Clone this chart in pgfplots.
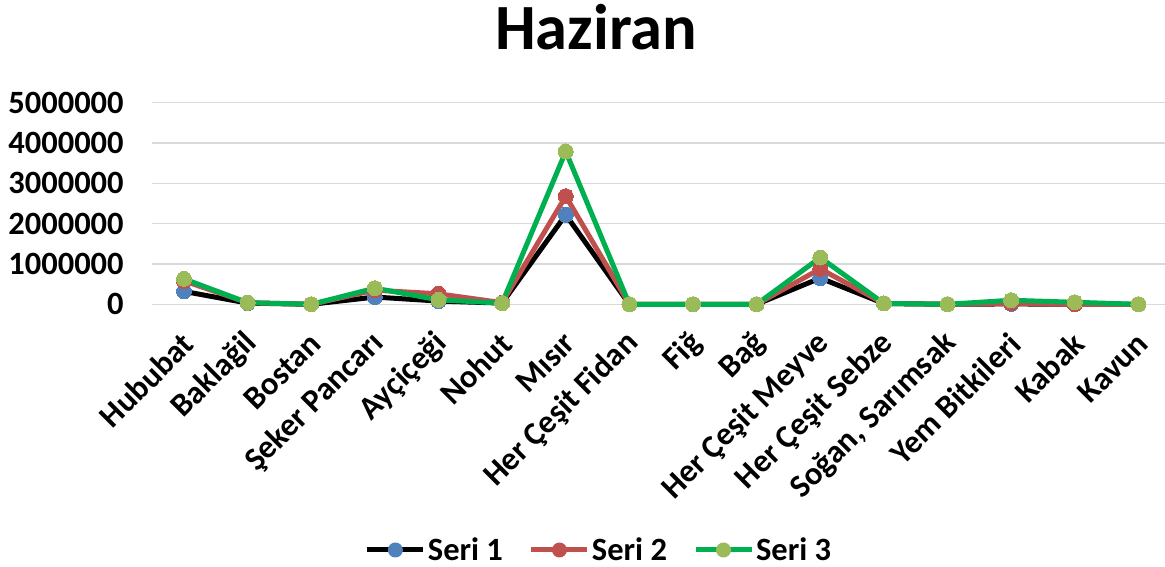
\documentclass[border=0pt]{standalone}
\usepackage{pgfplots}
\pgfplotsset{compat=1.18}
\usepackage{fontspec}
\setmainfont{Carlito}
\definecolor{sblue}{HTML}{4F81BD}
\definecolor{sred}{HTML}{C0504D}
\definecolor{sgreen}{HTML}{00B050}
\definecolor{sgreenm}{HTML}{9BBB59}
\definecolor{gridc}{HTML}{D9D9D9}
\pgfplotstableread{
x s1 s2 s3
0 320000 580000 630000
1 30000 40000 40000
2 0 0 0
3 180000 350000 400000
4 80000 260000 110000
5 30000 40000 30000
6 2220000 2680000 3790000
7 0 0 0
8 0 0 0
9 0 0 0
10 650000 880000 1160000
11 20000 20000 20000
12 0 0 0
13 10000 30000 100000
14 0 0 50000
15 0 0 0
}\datatable
\begin{document}
\begin{tikzpicture}
\begin{axis}[
  at={(152.2pt,262.7pt)}, anchor=south west,
  scale only axis, width=1018pt, height=201.6pt,
  xmin=-0.5, xmax=15.5, ymin=0, ymax=5000000,
  clip=false,
  axis line style={draw=none},
  major tick length=0pt,
  ymajorgrids, grid style={gridc, line width=1.5pt},
  ytick={0,1000000,2000000,3000000,4000000,5000000},
  scaled y ticks=false,
  /pgf/number format/.cd, fixed, precision=0, 1000 sep={}, assume math mode=true,
  /pgfplots/.cd,
  yticklabel style={font=\fontsize{32.5}{38}\selectfont\bfseries, anchor=east, xshift=-25pt},
  xtick={0,...,15},
  xticklabels={Hububat,Baklağil,Bostan,Şeker Pancarı,Ayçiçeği,Nohut,Mısır,Her Çeşit Fidan,Fiğ,Bağ,Her Çeşit Meyve,Her Çeşit Sebze,{Soğan, Sarımsak},Yem Bitkileri,Kabak,Kavun},
  xticklabel style={font=\fontsize{32.5}{38}\selectfont\bfseries, xshift=4pt, yshift=-34pt, rotate=45, anchor=east, inner sep=0pt},
  legend columns=3,
  legend style={draw=none, fill=none, at={(446.8pt,-245.7pt)}, anchor=center, font=\fontsize{32.5}{38}\selectfont\bfseries,
    /tikz/every even column/.append style={column sep=24pt}},
  legend cell align=left,
  legend image code/.code={\draw[#1, mark=none] (0pt,0pt) -- (56pt,0pt); \draw[#1, draw opacity=0] plot coordinates {(28pt,0pt)};},
  every axis plot/.append style={line width=5pt, mark=*, mark size=7.5pt},
]
\addplot[black, mark options={draw=sblue, fill=sblue, line width=0pt}] table[x=x, y=s1] {\datatable};
\addlegendentry{Seri 1}
\addplot[sred, mark options={draw=sred, fill=sred, line width=0pt}] table[x=x, y=s2] {\datatable};
\addlegendentry{Seri 2}
\addplot[sgreen, mark options={draw=sgreenm, fill=sgreenm, line width=0pt}] table[x=x, y=s3] {\datatable};
\addlegendentry{Seri 3}
\end{axis}
\node[font=\fontsize{64.5}{72}\selectfont\bfseries, anchor=base] at (596pt,517pt) {Haziran};
\pgfresetboundingbox
\path (0,0) rectangle (1165pt,567pt);
\end{tikzpicture}
\end{document}
